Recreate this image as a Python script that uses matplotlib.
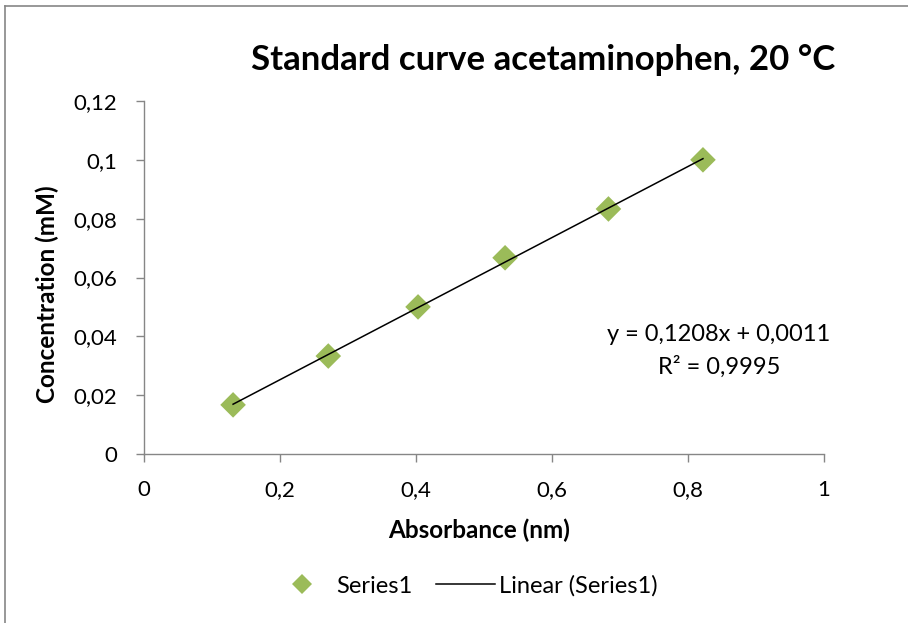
import matplotlib
matplotlib.use("Agg")
import matplotlib.pyplot as plt
from matplotlib.lines import Line2D
from matplotlib.ticker import MultipleLocator, FuncFormatter
import numpy as np

plt.rcParams['font.family'] = ['Lato', 'DejaVu Sans']

# Calibration standards
absorbance = [0.131, 0.271, 0.403, 0.531, 0.683, 0.822]
concentration = [0.0167, 0.0333, 0.0500, 0.0667, 0.0833, 0.1000]

# Linear trendline reported on the chart
slope = 0.1208
intercept = 0.0011
r_squared = 0.9995

title = "Standard curve acetaminophen, 20 °C"
x_label = "Absorbance (nm)"
y_label = "Concentration (mM)"

green = "#9BBB59"
axis_grey = "#868686"

fig = plt.figure(figsize=(9.08, 6.23), dpi=100)
ax = fig.add_axes([144/908, 1 - 454/623, (824 - 144)/908, (454 - 101)/623])

ax.scatter(absorbance, concentration, marker='D', s=170, color=green,
           edgecolors='none', zorder=2)
xs = np.array([min(absorbance), max(absorbance)])
ax.plot(xs, slope * xs + intercept, color='black', lw=1.1, zorder=3)

ax.set_xlim(0, 1)
ax.set_ylim(0, 0.12)
ax.xaxis.set_major_locator(MultipleLocator(0.2))
ax.yaxis.set_major_locator(MultipleLocator(0.02))


def comma_fmt(v, pos):
    s = f"{v:.2f}".rstrip('0').rstrip('.')
    return s.replace('.', ',')


ax.xaxis.set_major_formatter(FuncFormatter(comma_fmt))
ax.yaxis.set_major_formatter(FuncFormatter(comma_fmt))

for side in ('top', 'right'):
    ax.spines[side].set_visible(False)
for side in ('left', 'bottom'):
    ax.spines[side].set_color(axis_grey)
    ax.spines[side].set_linewidth(1.0)
ax.tick_params(axis='both', direction='out', length=6, width=1.0,
               color=axis_grey, labelsize=16, labelcolor='black')
ax.tick_params(axis='x', pad=12.5)
ax.tick_params(axis='y', pad=13)

ax.set_xlabel(x_label, fontsize=17.5, fontweight='bold')
ax.set_ylabel(y_label, fontsize=17.5, fontweight='bold')
ax.xaxis.label.set_va('center')
ax.yaxis.label.set_va('center')
ax.xaxis.set_label_coords(0.5 - 5/680, -76/353)
ax.yaxis.set_label_coords(-97/680, 160/353)

fig.text(543/908, 1 - 60/623, title, fontsize=25, fontweight='bold',
         ha='center', va='center')

eq = f"y = {slope:.4f}x + {intercept:.4f}".replace('.', ',')
r2 = f"R² = {r_squared:.4f}".replace('.', ',')
ax.text(0.8456, 0.0405, eq, fontsize=17, ha='center', va='center')
ax.text(0.8456, 0.0296, r2, fontsize=17, ha='center', va='center')

handles = [
    Line2D([], [], marker='D', ls='none', color=green, markersize=10,
           markeredgewidth=0),
    Line2D([], [], color='black', lw=1.1),
]
fig.legend(handles, ["Series1", "Linear (Series1)"], loc='center',
           bbox_to_anchor=(465/908, 1 - 586/623), ncol=2, frameon=False,
           fontsize=17, handlelength=2.5, columnspacing=1.0,
           handletextpad=0.2, borderpad=0, borderaxespad=0)

# Chart area frame (top and left edges)
fig.add_artist(Line2D([5/908, 1.0], [1 - 6/623, 1 - 6/623],
                      transform=fig.transFigure, color=axis_grey, lw=1.2))
fig.add_artist(Line2D([5/908, 5/908], [0, 1 - 6/623],
                      transform=fig.transFigure, color=axis_grey, lw=1.2))

fig.savefig("out.png", dpi=100)
